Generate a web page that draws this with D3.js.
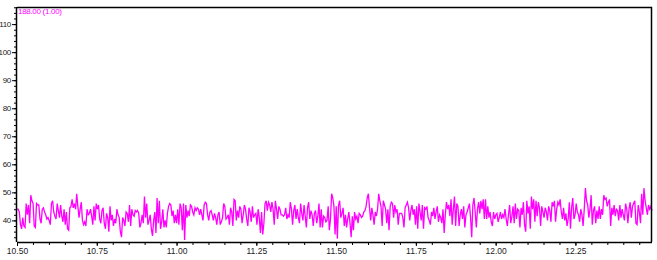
<!DOCTYPE html>
<html>
<head>
<meta charset="utf-8">
<script src="https://cdn.jsdelivr.net/npm/d3@7"></script>
<style>
  body { margin:0; background:#fff; }
  text { font-family: "Liberation Sans", Arial, sans-serif; }
</style>
</head>
<body>
<div id="chrom-area"></div>
<script>
/** Chromatogram trace, m/z 188 */

var traceLabel = "188.00 (1.00)";

// retention time window (min)
var timeStart = 10.50,
    timeEnd = 12.49;

var xTickValues = [10.50, 10.75, 11.00, 11.25, 11.50, 11.75, 12.00, 12.25];
var yTickValues = [40, 50, 60, 70, 80, 90, 100, 110];

// intensities, left to right
var intensity = [
  44, 44, 43, 38.5, 37, 41, 38, 37.5, 46, 42, 45.5, 39, 49, 47, 46, 38, 37.5, 46, 45.5, 45.5,
  40.5, 39, 44, 44.5, 43, 42, 40.5, 41, 40, 38.5, 46, 47, 43, 41.5, 40.5, 46, 43.5, 41, 45.5, 41.5,
  39.5, 44, 38.5, 43, 37, 36.5, 44.5, 45, 47.5, 44.5, 46, 44, 49.5, 45, 41, 44, 46.5, 40, 38.5, 39.5,
  38, 44, 42, 42.5, 44, 41.5, 38.5, 45, 40, 46, 44, 45.5, 40.5, 39, 43.5, 44.5, 39, 37, 42.5, 41,
  36, 45, 40, 42, 38, 40.5, 39, 44, 42, 41, 36, 34, 41, 40, 38, 43, 42.5, 39.5, 45.5, 38,
  44, 42, 41.5, 43.5, 43, 43.5, 42.5, 37.5, 39, 42, 39, 48.5, 41, 46, 38.5, 40, 42, 37, 34.5, 40,
  43, 35.5, 48, 39, 47, 37, 39.5, 44, 37.5, 40, 37.5, 42.5, 45, 46, 45.5, 41.5, 43.5, 39, 42, 39,
  44, 38.5, 46, 44.5, 36.5, 46, 33, 45.5, 41, 43.5, 41.5, 45.5, 45, 43, 42, 44.5, 43.5, 44.5, 44, 42,
  44, 42, 40, 45.5, 46.5, 46, 42, 40, 43, 43.5, 42, 40, 42.5, 41, 38.5, 42, 43, 38.5, 39.5, 41,
  46, 45, 40.5, 41, 42, 38.5, 44.5, 43, 38, 47.5, 47, 40, 43.5, 41, 45, 44, 39, 42, 45.5, 44,
  40.5, 38, 44.5, 43, 39.5, 45, 41, 42, 42.5, 38.5, 44, 41, 35.5, 43, 35, 39, 46, 47, 43.5, 46.5,
  45.5, 43, 46.5, 44, 38.5, 47, 44, 40.5, 45, 44, 42, 42, 41.5, 42, 44.5, 40.5, 42, 41, 46.5, 44,
  38.5, 43.5, 45.5, 40.5, 44, 41, 39, 46, 42.5, 40, 45.5, 41.5, 37.5, 44.5, 46.5, 40.5, 43.5, 42, 38, 42.5,
  43.5, 39, 41.5, 46, 37.5, 44, 37.5, 41.5, 41, 39.5, 40, 45, 36.5, 40.5, 49.5, 48, 45, 35, 45, 33.5,
  45.5, 47, 41, 42.5, 44.5, 38, 42, 37.5, 40.5, 43, 39, 34, 41.5, 36.5, 43, 40.5, 41.5, 39, 42.5, 42,
  41, 41.5, 43, 43.5, 45, 48, 49.5, 44.5, 40, 44.5, 42, 38.5, 43, 41.5, 44, 49.5, 47, 45, 38, 47,
  45.5, 44, 39, 44, 36.5, 45, 46.5, 46, 41, 45.5, 43, 44, 38.5, 42.5, 42.5, 42.5, 41, 37.5, 44.5, 45.5,
  46.5, 44.5, 40, 43.5, 45.5, 42, 44, 38.5, 45, 37, 46, 43, 40, 45.5, 37, 44.5, 44, 45, 41, 40,
  38.5, 43, 41.5, 44.5, 40.5, 43, 45, 39.5, 42, 41, 39, 44, 35.5, 42, 46.5, 44, 45.5, 41.5, 47.5, 38.5,
  44, 48.5, 38, 46, 45, 38, 42, 44, 40.5, 45, 37.5, 42, 43, 44.5, 46, 41, 34, 45.5, 48, 43,
  37.5, 44, 46.5, 42.5, 47, 44, 47.5, 40.5, 47.5, 40.5, 45, 41, 43, 39.5, 38, 43, 40.5, 42, 42.5, 39.5,
  41, 43, 40.5, 42, 41, 44, 40.5, 38, 42, 45.5, 39, 41.5, 45, 39, 46, 40.5, 44, 43.5, 37.5, 44.5,
  42, 46.5, 38.5, 36, 47, 42.5, 45, 37, 48.5, 44, 47.5, 39.5, 47, 41.5, 46.5, 44.5, 38, 45, 43, 41,
  44.5, 43, 40, 45, 43.5, 39.5, 46.5, 45, 47, 39.5, 44, 46.5, 45.5, 47.5, 43, 40.5, 44.5, 40, 42.5, 38,
  40.5, 46.5, 37, 44.5, 48, 40.5, 42, 46, 43, 42, 39.5, 44, 42, 38, 44, 51.5, 47, 45.5, 41, 44,
  49, 38.5, 43.5, 45, 39, 43.5, 40.5, 45, 40.5, 44, 42, 49, 47.5, 48, 45, 46.5, 47.5, 38, 44.5, 42,
  45.5, 41.5, 44, 43.5, 40, 45.5, 41, 44, 42, 40, 46, 44, 39, 44, 46.5, 41, 45, 46, 47, 39,
  38.5, 45.5, 43, 39, 49.5, 42, 51.5, 47, 44.5, 42, 45.5, 44, 45, 43.5
];

var margin = { left:17, right:5, top:7, bottom:18 };

var width = 657 - margin.left - margin.right,
    height = 260 - margin.top - margin.bottom;

var svg = d3.select("#chrom-area")
  .append("svg")
    .attr("width", 657)
    .attr("height", 260)
  .append("g")
    .attr("transform", "translate(" + margin.left + ", " + margin.top + ")");

var data = intensity.map(function(v, i) {
    return { t: timeStart + i * (timeEnd - timeStart) / (intensity.length - 1), v: v };
});

// X Scale
var x = d3.scaleLinear()
    .domain([timeStart, timeEnd])
    .range([0, width]);

// Y Scale
var y = d3.scaleLinear()
    .domain([32.3, 116.1])
    .range([height, 0]);

// trace
var line = d3.line()
    .x(function(d){ return x(d.t); })
    .y(function(d){ return y(d.v); });

svg.append("path")
    .datum(data)
    .attr("fill", "none")
    .attr("stroke", "#ff00ff")
    .attr("stroke-width", 1.3)
    .attr("d", line);

// frame (top/right)
svg.append("path")
    .attr("d", "M0,0.5H" + (width - 0.5) + "V" + height)
    .attr("fill", "none")
    .attr("stroke", "#000")
    .attr("stroke-width", 1.5);

// X Axis minor ticks
svg.append("g")
    .attr("transform", "translate(0," + height + ")")
    .call(d3.axisBottom(x).tickValues(d3.range(10.55, 12.47, 0.05)).tickSize(3).tickFormat(""))
    .call(g => g.select(".domain").remove());

var xAxisCall = d3.axisBottom(x)
    .tickValues(xTickValues)
    .tickSize(4)
    .tickPadding(2)
    .tickFormat(d3.format(".2f"));

svg.append("g")
    .attr("class", "x axis")
    .attr("transform", "translate(0," + height + ")")
    .call(xAxisCall)
    .call(g => g.select(".domain").attr("d", "M0,0.5H" + width).attr("stroke-width", 1.5))
    .selectAll("text")
        .attr("font-size", "8.5px")
        .attr("fill", "#222");

// Y Axis minor ticks
svg.append("g")
    .call(d3.axisLeft(y).tickValues(d3.range(34, 117, 2)).tickSize(3).tickFormat(""))
    .call(g => g.select(".domain").remove());

var yAxisCall = d3.axisLeft(y)
    .tickValues(yTickValues)
    .tickSize(5)
    .tickPadding(1)
    .tickFormat(function(d){ return d; });

svg.append("g")
    .attr("class", "yAxis")
    .call(yAxisCall)
    .call(g => g.select(".domain").attr("d", "M-0.5,0V" + height).attr("stroke-width", 1.5))
    .selectAll("text")
        .attr("font-size", "8px")
        .attr("letter-spacing", "-0.3px")
        .attr("fill", "#222");

svg.append("text")
    .attr("x", 1)
    .attr("y", 7)
    .attr("font-size", "8px")
    .attr("letter-spacing", "-0.3px")
    .attr("fill", "#ff00ff")
    .text(traceLabel);
</script>
</body>
</html>
